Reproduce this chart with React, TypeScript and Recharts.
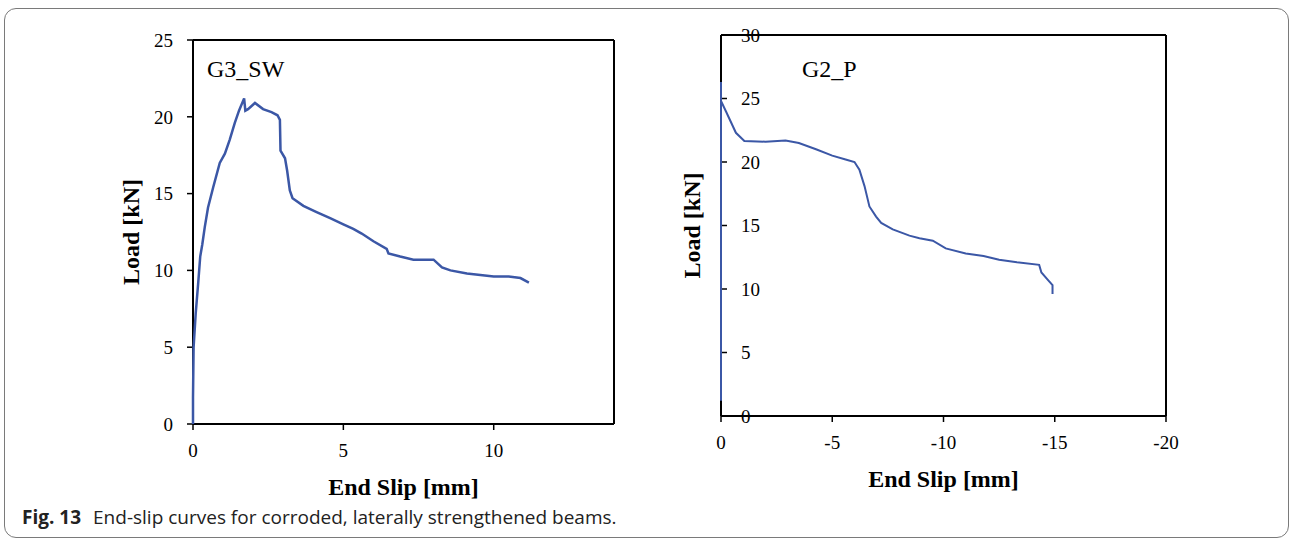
import React from 'react';
import { LineChart, Line, XAxis, YAxis, ReferenceLine, Label } from 'recharts';

// G3_SW: end slip (mm) vs load (kN)
const g3Slip = [0, 0, 0.02, 0.09, 0.17, 0.24, 0.31, 0.39, 0.5, 0.67, 0.89, 1.06, 1.22, 1.39, 1.53, 1.7, 1.74, 1.83, 2.06, 2.33, 2.61, 2.81, 2.89, 2.91, 3.06, 3.13, 3.22, 3.31, 3.67, 4.11, 4.56, 5.0, 5.33, 5.61, 6.0, 6.44, 6.5, 6.89, 7.33, 8.0, 8.28, 8.56, 9.11, 10.0, 10.5, 10.89, 11.17];
const g3Load = [0, 1.7, 5.0, 7.2, 9.1, 10.9, 11.7, 12.8, 14.1, 15.4, 17.0, 17.6, 18.5, 19.6, 20.4, 21.2, 20.4, 20.5, 20.9, 20.5, 20.3, 20.1, 19.8, 17.8, 17.3, 16.5, 15.2, 14.7, 14.2, 13.8, 13.4, 13.0, 12.7, 12.4, 11.9, 11.4, 11.1, 10.9, 10.7, 10.7, 10.2, 10.0, 9.8, 9.6, 9.6, 9.5, 9.2];

// G2_P: end slip (mm, negative) vs load (kN)
const g2Slip = [0, 0, 0, -0.22, -0.67, -1.05, -2.0, -2.9, -3.5, -4.27, -5.0, -5.6, -6.0, -6.22, -6.45, -6.67, -6.97, -7.2, -7.72, -8.47, -8.92, -9.52, -10.1, -11.0, -11.8, -12.5, -13.3, -14.3, -14.4, -14.7, -14.9, -14.9];
const g2Load = [1.2, 26.3, 24.8, 24.0, 22.3, 21.66, 21.6, 21.7, 21.5, 21.0, 20.5, 20.2, 20.0, 19.4, 18.1, 16.5, 15.7, 15.2, 14.7, 14.2, 14.0, 13.8, 13.2, 12.8, 12.6, 12.3, 12.1, 11.9, 11.3, 10.7, 10.3, 9.6];

const leftXTicks = [0, 5, 10];
const leftYTicks = [0, 5, 10, 15, 20, 25];
const rightXTicks = [0, -5, -10, -15, -20];
const rightYTicks = [0, 5, 10, 15, 20, 25, 30];

const g3Data = g3Slip.map((s, i) => ({ slip: s, load: g3Load[i] }));
const g2Data = g2Slip.map((s, i) => ({ slip: s, load: g2Load[i] }));

const SERIF = '"Liberation Serif", "Times New Roman", serif';
const BLUE = '#3b57a6';
const tickStyle = { fill: '#000', fontSize: 19, fontFamily: SERIF };
const titleStyle = { fill: '#000', fontSize: 24, fontWeight: 700, fontFamily: SERIF };

// the mirrored y axis puts its own label inside the plot, so draw it left of the axis line
const OutsideYLabel = ({ viewBox }: any) => {
  const x = viewBox.x - 30;
  const y = viewBox.y + viewBox.height / 2;
  return (
    <text
      x={x} y={y} dy="0.355em" textAnchor="middle" transform={`rotate(-90, ${x}, ${y})`}
      style={titleStyle}
    >
      Load [kN]
    </text>
  );
};

const App = () => {
  return (
    <div style={{ position: 'absolute', left: 0, top: 0, width: 1290, height: 540, overflow: 'hidden', background: '#fff' }}>
      <div
        style={{
          position: 'absolute', left: 4, top: 8, width: 1285, height: 530,
          border: '1.5px solid #7a7a7a', borderRadius: 12, boxSizing: 'border-box',
        }}
      />

      <div style={{ position: 'absolute', left: 0, top: 0 }}>
        <LineChart width={640} height={549} data={g3Data} margin={{ top: 40, right: 26, left: 67, bottom: 0 }}>
          <XAxis
            dataKey="slip" type="number" domain={[0, 14]} ticks={leftXTicks} interval={0}
            height={125} tickSize={6} tickMargin={14} tick={tickStyle}
            axisLine={{ stroke: '#000', strokeWidth: 2 }} tickLine={{ stroke: '#000', strokeWidth: 1.5 }}
          >
            <Label value="End Slip [mm]" position="center" style={titleStyle} />
          </XAxis>
          <YAxis
            type="number" domain={[0, 25]} ticks={leftYTicks} interval={0}
            width={126} tickSize={6} tickMargin={14} tick={tickStyle}
            axisLine={false} tickLine={{ stroke: '#000', strokeWidth: 1.5 }}
          >
            <Label value="Load [kN]" angle={-90} position="center" style={titleStyle} />
          </YAxis>
          <ReferenceLine x={0} stroke="#000" strokeWidth={2} />
          <ReferenceLine y={25} stroke="#000" strokeWidth={2} />
          <ReferenceLine x={14} stroke="#000" strokeWidth={2} />
          <Line
            dataKey="load" type="linear" stroke={BLUE} strokeWidth={2.5}
            dot={false} isAnimationActive={false} zIndex={600}
          />
        </LineChart>
      </div>

      <div style={{ position: 'absolute', left: 640, top: 0 }}>
        <LineChart width={650} height={541} data={g2Data} margin={{ top: 35, right: 124, left: 81, bottom: 0 }}>
          <XAxis
            dataKey="slip" type="number" domain={[-20, 0]} reversed ticks={rightXTicks} interval={0}
            height={125} tickSize={6} tickMargin={14} tick={tickStyle}
            axisLine={{ stroke: '#000', strokeWidth: 2 }} tickLine={{ stroke: '#000', strokeWidth: 1.5 }}
          >
            <Label value="End Slip [mm]" position="center" style={titleStyle} />
          </XAxis>
          <YAxis
            type="number" domain={[0, 30]} ticks={rightYTicks} interval={0} mirror
            width={61} tickSize={6} tickMargin={14} tick={tickStyle}
            axisLine={false} tickLine={{ stroke: '#000', strokeWidth: 1.5 }}
          >
            <Label content={OutsideYLabel} />
          </YAxis>
          <ReferenceLine x={0} stroke="#000" strokeWidth={2} />
          <ReferenceLine y={30} stroke="#000" strokeWidth={2} />
          <ReferenceLine x={-20} stroke="#000" strokeWidth={2} />
          <Line
            dataKey="load" type="linear" stroke={BLUE} strokeWidth={2}
            dot={false} isAnimationActive={false} zIndex={600}
          />
        </LineChart>
      </div>

      <div style={{ position: 'absolute', left: 207, top: 57, fontFamily: SERIF, fontSize: 24, lineHeight: 1 }}>G3_SW</div>
      <div style={{ position: 'absolute', left: 802, top: 57, fontFamily: SERIF, fontSize: 24, lineHeight: 1 }}>G2_P</div>

      <div
        style={{
          position: 'absolute', left: 22, top: 508, fontFamily: '"Open Sans", sans-serif',
          fontSize: 19, lineHeight: 1, color: '#222', whiteSpace: 'nowrap',
        }}
      >
        <span style={{ fontWeight: 700 }}>Fig. 13</span>
        <span style={{ marginLeft: 12 }}>End-slip curves for corroded, laterally strengthened beams.</span>
      </div>
    </div>
  );
};

export default App;
